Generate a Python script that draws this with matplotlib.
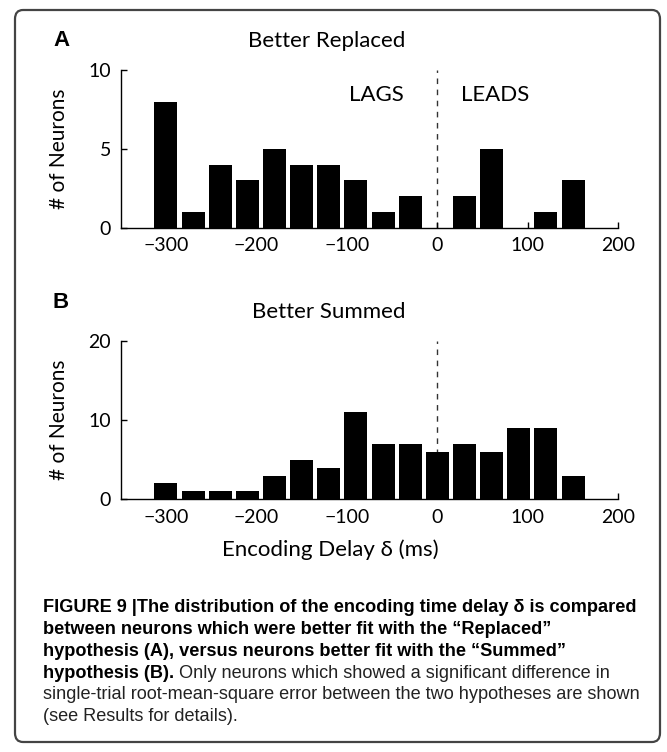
import numpy as np
import matplotlib
matplotlib.use('Agg')
import matplotlib.pyplot as plt
from matplotlib.patches import FancyBboxPatch

# histogram bin centres (ms) and counts
centers = [-300, -270, -240, -210, -180, -150, -120, -90, -60, -30, 0, 30, 60, 90, 120, 150]
replaced = [8, 1, 4, 3, 5, 4, 4, 3, 1, 2, 0, 2, 5, 0, 1, 3]
summed = [2, 1, 1, 1, 3, 5, 4, 11, 7, 7, 6, 7, 6, 9, 9, 3]
xticks = [-300, -200, -100, 0, 100, 200]

caption_bold = ['FIGURE 9 |The distribution of the encoding time delay \u03b4 is compared',
                'between neurons which were better fit with the \u201cReplaced\u201d',
                'hypothesis (A), versus neurons better fit with the \u201cSummed\u201d',
                'hypothesis (B).']
caption_reg = [' Only neurons which showed a significant difference in',
               'single-trial root-mean-square error between the two hypotheses are shown',
               '(see Results for details).']

plt.rcParams['font.family'] = ['Lato', 'DejaVu Sans']
plt.rcParams['axes.linewidth'] = 1.0

W, H = 667, 752
fig = plt.figure(figsize=(W / 100, H / 100), dpi=100)

def px(x, y):
    return x / W, 1 - y / H

box = FancyBboxPatch((15 / W, 1 - 742 / H), 645 / W, 732 / H,
                     boxstyle='round,pad=0,rounding_size=0.012',
                     transform=fig.transFigure, fill=False, ec='#444444', lw=1.6)
fig.patches.append(box)

def panel(rect, vals, ymax, yt):
    ax = fig.add_axes(rect)
    ax.axvline(0, color='#333333', lw=1, ls=(0, (4, 4)), zorder=1)
    ax.bar(centers, vals, width=25.4, color='black', zorder=2)
    ax.set_xlim(-350, 200)
    ax.set_ylim(0, ymax)
    ax.set_xticks(xticks)
    ax.set_xticklabels(['\u2212' + str(-t) if t < 0 else str(t) for t in xticks])
    ax.set_yticks(yt)
    for s in ['top', 'right']:
        ax.spines[s].set_visible(False)
    ax.tick_params(direction='in', length=4, width=1, labelsize=14, pad=7)
    ax.set_ylabel('# of Neurons', fontsize=15, labelpad=14)
    return ax

axA = panel([0.181, 0.6972, 0.746, 0.2097], replaced, 10, [0, 5, 10])
axB = panel([0.181, 0.336, 0.746, 0.2105], summed, 20, [0, 10, 20])

axA.text(-67, 8.4, 'LAGS', fontsize=16, ha='center', va='center')
axA.text(64, 8.4, 'LEADS', fontsize=16, ha='center', va='center')
fig.text(*px(330, 550), 'Encoding Delay \u03b4 (ms)', fontsize=16, ha='center', va='center')

fig.text(*px(327, 41), 'Better Replaced', fontsize=16, ha='center', va='center')
fig.text(*px(329, 312), 'Better Summed', fontsize=16, ha='center', va='center')
fig.text(*px(61, 41), 'A', fontsize=16, fontweight='bold', ha='center', va='center',
         family='Liberation Sans')
fig.text(*px(61, 302), 'B', fontsize=16, fontweight='bold', ha='center', va='center',
         family='Liberation Sans')

cap = ['Liberation Sans', 'DejaVu Sans']
x0 = 43
y0 = 608
dy = 21.7
fs = 13.1
fig.canvas.draw()
r = fig.canvas.get_renderer()
for i, line in enumerate(caption_bold):
    t = fig.text(*px(x0, y0 + i * dy), line, fontsize=fs, fontweight='bold',
                 family=cap, ha='left', va='center')
last = t.get_window_extent(r)
for j, line in enumerate(caption_reg):
    if j == 0:
        xx = last.x1 / W
        yy = 1 - (y0 + 3 * dy) / H
    else:
        xx, yy = px(x0, y0 + (3 + j) * dy)
    fig.text(xx, yy, line, fontsize=fs, family=cap, ha='left', va='center', color='#222222')

fig.savefig('out.png', dpi=100)
